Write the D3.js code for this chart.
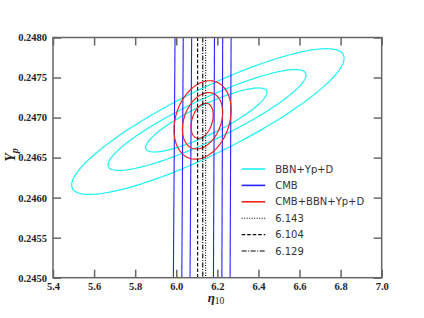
<!DOCTYPE html>
<html>
<head>
<meta charset="utf-8">
<script src="https://cdn.jsdelivr.net/npm/d3@7"></script>
<style>
  body { margin: 0; background: #fff; }
  svg text { font-family: 'Liberation Serif', 'DejaVu Serif', serif; }
</style>
</head>
<body>
<div id="chart"></div>
<script>
// axis ticks
const xTicks = [5.4, 5.6, 5.8, 6.0, 6.2, 6.4, 6.6, 6.8, 7.0];
const yTicks = [0.2450, 0.2455, 0.2460, 0.2465, 0.2470, 0.2475, 0.2480];

// BBN+Yp+D contours: center, half x-extent, half y-extent, correlation
const bbnCx = [6.146, 6.150, 6.154];
const bbnCy = [0.24697, 0.24697, 0.24695];
const bbnRx = [0.295, 0.482, 0.663];
const bbnRy = [0.00040, 0.00063, 0.00091];
const bbnRho = [0.86, 0.89, 0.87];

// CMB contours: nearly vertical lines, x at bottom / top of the plot
const cmbBottom = [5.986, 6.027, 6.067, 6.181, 6.222, 6.262];
const cmbTop = [5.994, 6.034, 6.075, 6.186, 6.226, 6.267];

// CMB+BBN+Yp+D contours
const combCx = [6.126, 6.128, 6.128];
const combCy = [0.24696, 0.24696, 0.24697];
const combRx = [0.054, 0.098, 0.139];
const combRy = [0.000219, 0.000352, 0.00049];
const combRho = [0.33, 0.30, 0.25];

// best-fit eta values
const etaLabels = ['6.143', '6.104', '6.129'];
const etaValues = [6.143, 6.104, 6.129];
const etaDash = ['1,1.5', '3.5,2', '5,1.5,1,1.5'];

const legendNames = ['BBN+Yp+D', 'CMB', 'CMB+BBN+Yp+D'];
const legendColors = ['#1ef2f2', '#2222ff', '#ee2222'];

const W = 424, H = 318;
const margin = { top: 37.5, right: 42.3, bottom: 40.3, left: 53 };
const width = W - margin.left - margin.right;
const height = H - margin.top - margin.bottom;

const svg = d3.select('#chart').append('svg')
    .attr('width', W)
    .attr('height', H);

svg.append('defs').append('clipPath')
    .attr('id', 'plotClip')
  .append('rect')
    .attr('width', width)
    .attr('height', height);

const g = svg.append('g')
    .attr('transform', 'translate(' + margin.left + ',' + margin.top + ')');

const x = d3.scaleLinear().domain([5.4, 7.0]).range([0, width]);
const y = d3.scaleLinear().domain([0.2450, 0.2480]).range([height, 0]);

const plot = g.append('g').attr('clip-path', 'url(#plotClip)');

// closed contour from center / extents / correlation
function ellipse(cx, cy, rx, ry, rho) {
    return d3.range(0, 181).map(i => {
        const t = i / 180 * 2 * Math.PI;
        return [cx + rx * Math.cos(t),
                cy + ry * (rho * Math.cos(t) + Math.sqrt(1 - rho * rho) * Math.sin(t))];
    });
}
const line = d3.line().x(d => x(d[0])).y(d => y(d[1])).curve(d3.curveLinearClosed);

plot.selectAll('.bbn')
    .data(bbnCx.map((c, i) => ellipse(c, bbnCy[i], bbnRx[i], bbnRy[i], bbnRho[i])))
  .enter().append('path')
    .attr('class', 'bbn')
    .attr('d', line)
    .attr('fill', 'none')
    .attr('stroke', legendColors[0])
    .attr('stroke-width', 1.2);

plot.selectAll('.cmb')
    .data(cmbBottom.map((b, i) => [b, cmbTop[i]]))
  .enter().append('line')
    .attr('class', 'cmb')
    .attr('x1', d => x(d[0]))
    .attr('x2', d => x(d[1]))
    .attr('y1', y(0.2450))
    .attr('y2', y(0.2480))
    .attr('stroke', legendColors[1])
    .attr('stroke-width', 1.1);

plot.selectAll('.comb')
    .data(combCx.map((c, i) => ellipse(c, combCy[i], combRx[i], combRy[i], combRho[i])))
  .enter().append('path')
    .attr('class', 'comb')
    .attr('d', line)
    .attr('fill', 'none')
    .attr('stroke', legendColors[2])
    .attr('stroke-width', 1.2);

plot.selectAll('.eta')
    .data(etaValues)
  .enter().append('line')
    .attr('class', 'eta')
    .attr('x1', d => x(d))
    .attr('x2', d => x(d))
    .attr('y1', 0)
    .attr('y2', height)
    .attr('stroke', '#000')
    .attr('stroke-width', 1.1)
    .attr('stroke-dasharray', (d, i) => etaDash[i]);

// frame and ticks
const axisColor = '#666';
g.append('rect')
    .attr('width', width)
    .attr('height', height)
    .attr('fill', 'none')
    .attr('stroke', axisColor)
    .attr('stroke-width', 1.5);

const tickLen = 8;
const xAxisB = g.append('g').attr('transform', 'translate(0,' + height + ')')
    .call(d3.axisBottom(x).tickValues(xTicks).tickSizeInner(-tickLen).tickSizeOuter(0)
        .tickPadding(5).tickFormat(d3.format('.1f')));
const xAxisT = g.append('g')
    .call(d3.axisTop(x).tickValues(xTicks).tickSizeInner(-tickLen).tickSizeOuter(0).tickFormat(''));
const yAxisL = g.append('g')
    .call(d3.axisLeft(y).tickValues(yTicks).tickSizeInner(-tickLen).tickSizeOuter(0)
        .tickPadding(6).tickFormat(d3.format('.4f')));
const yAxisR = g.append('g').attr('transform', 'translate(' + width + ',0)')
    .call(d3.axisRight(y).tickValues(yTicks).tickSizeInner(-tickLen).tickSizeOuter(0).tickFormat(''));

[xAxisB, xAxisT, yAxisL, yAxisR].forEach(a => {
    a.select('.domain').remove();
    a.selectAll('.tick line').attr('stroke', axisColor).attr('stroke-width', 1.5);
    a.selectAll('.tick text')
        .attr('fill', '#222')
        .style('font-family', "'Liberation Serif', serif")
        .style('font-weight', 'bold')
        .style('font-size', '10.5px');
});

// axis titles
svg.append('text')
    .attr('x', 216)
    .attr('y', 302)
    .attr('text-anchor', 'middle')
    .attr('fill', '#222')
    .style('font-size', '13px')
    .html('<tspan font-style="italic" font-weight="bold">η</tspan><tspan font-size="9.5px" dy="2">10</tspan>');

svg.append('text')
    .attr('transform', 'translate(15,155) rotate(-90)')
    .attr('text-anchor', 'middle')
    .attr('fill', '#222')
    .style('font-size', '14px')
    .style('font-weight', 'bold')
    .style('font-style', 'italic')
    .html('<tspan>Y</tspan><tspan font-size="10px" dy="3">p</tspan>');

// legend
const legendX = 241.7, legendY = 169, rowH = 16.4;
const legendRows = legendNames.map((n, i) => ({ name: n, color: legendColors[i], dash: null }))
    .concat(etaLabels.map((n, i) => ({ name: n, color: '#000', dash: etaDash[i] })));

const legend = svg.append('g')
    .selectAll('g')
    .data(legendRows)
  .enter().append('g')
    .attr('transform', (d, i) => 'translate(' + legendX + ',' + (legendY + i * rowH) + ')');
legend.append('line')
    .attr('x1', 0)
    .attr('x2', 23.5)
    .attr('stroke', d => d.color)
    .attr('stroke-width', d => d.dash ? 1.1 : 1.6)
    .attr('stroke-dasharray', d => d.dash);
legend.append('text')
    .attr('x', 33.5)
    .attr('y', 3.6)
    .attr('fill', '#333')
    .style('font-family', "'DejaVu Sans', sans-serif")
    .style('font-size', '10px')
    .text(d => d.name);
</script>
</body>
</html>
